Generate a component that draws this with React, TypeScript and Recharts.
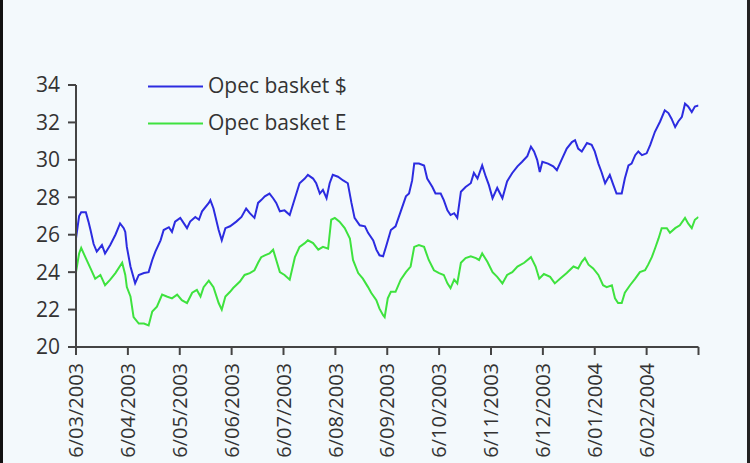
import React from "react";
import { LineChart, Line, XAxis, YAxis } from "recharts";

const FONT = "'Open Sans', 'DejaVu Sans', sans-serif";

// x positions are months since the first tick (0 = first date label)
const monthTicks = [0, 1, 2, 3, 4, 5, 6, 7, 8, 9, 10, 11, 12];
const monthLabels = [
  "6/03/2003", "6/04/2003", "6/05/2003", "6/06/2003", "6/07/2003", "6/08/2003",
  "6/09/2003", "6/10/2003", "6/11/2003", "6/12/2003", "6/01/2004", "6/02/2004",
];
const yTicks = [20, 22, 24, 26, 28, 30, 32, 34];
const seriesNames = ["Opec basket $", "Opec basket E"];
const seriesColors = ["#2c2ce0", "#3ee23e"];

const usdMonths = [
  0.0, 0.06, 0.1, 0.19, 0.24, 0.28, 0.34, 0.4, 0.5, 0.56, 0.66, 0.76, 0.85, 0.92, 0.95, 0.98,
  1.05, 1.14, 1.21, 1.31, 1.4, 1.47, 1.53, 1.63, 1.69, 1.79, 1.85, 1.91, 2.01, 2.14, 2.2, 2.3,
  2.37, 2.43, 2.56, 2.59, 2.65, 2.75, 2.81, 2.88, 2.97, 3.09, 3.19, 3.28, 3.35, 3.44, 3.51, 3.57,
  3.64, 3.73, 3.8, 3.86, 3.93, 4.02, 4.12, 4.22, 4.31, 4.41, 4.47, 4.57, 4.63, 4.7, 4.76, 4.83,
  4.89, 4.95, 5.05, 5.15, 5.24, 5.31, 5.37, 5.47, 5.57, 5.63, 5.73, 5.79, 5.85, 5.92, 5.98, 6.07,
  6.16, 6.26, 6.36, 6.42, 6.48, 6.52, 6.61, 6.71, 6.77, 6.87, 6.93, 7.03, 7.09, 7.16, 7.22, 7.29,
  7.35, 7.42, 7.51, 7.61, 7.67, 7.74, 7.83, 7.9, 7.96, 8.03, 8.12, 8.22, 8.31, 8.41, 8.51, 8.6,
  8.7, 8.77, 8.83, 8.89, 8.94, 8.99, 9.1, 9.2, 9.27, 9.36, 9.46, 9.56, 9.62, 9.68, 9.75, 9.85,
  9.94, 10.0, 10.07, 10.13, 10.2, 10.29, 10.36, 10.42, 10.52, 10.58, 10.65, 10.71, 10.78, 10.84,
  10.91, 11.0, 11.07, 11.16, 11.26, 11.35, 11.42, 11.48, 11.55, 11.61, 11.68, 11.74, 11.8, 11.87,
  11.93, 12.0,
];
const usdValues = [
  25.8, 27.0, 27.2, 27.2, 26.7, 26.25, 25.5, 25.1, 25.45, 25.0, 25.45, 26.0, 26.6, 26.35, 26.15, 25.35,
  24.3, 23.4, 23.85, 23.95, 24.0, 24.65, 25.1, 25.7, 26.25, 26.4, 26.15, 26.7, 26.9, 26.35, 26.7, 26.95,
  26.8, 27.25, 27.7, 27.85, 27.4, 26.25, 25.7, 26.35, 26.45, 26.7, 26.95, 27.4, 27.15, 26.9, 27.7, 27.85,
  28.05, 28.2, 27.95, 27.7, 27.25, 27.3, 27.05, 27.95, 28.75, 29.0, 29.2, 29.0, 28.75, 28.2, 28.4, 27.95,
  28.75, 29.2, 29.1, 28.9, 28.75, 27.7, 26.9, 26.5, 26.45, 26.1, 25.7, 25.2, 24.9, 24.85, 25.4, 26.25,
  26.45, 27.25, 28.05, 28.2, 28.9, 29.8, 29.8, 29.7, 29.0, 28.55, 28.2, 28.2, 27.85, 27.3, 27.05, 27.15,
  26.9, 28.3, 28.55, 28.75, 29.3, 29.0, 29.7, 29.1, 28.65, 27.95, 28.5, 27.95, 28.85, 29.3, 29.65, 29.9,
  30.2, 30.7, 30.45, 30.0, 29.35, 29.9, 29.8, 29.65, 29.45, 30.0, 30.6, 30.95, 31.05, 30.6, 30.45, 30.9,
  30.8, 30.45, 29.8, 29.35, 28.75, 29.2, 28.65, 28.2, 28.2, 29.0, 29.7, 29.8, 30.25, 30.45,
  30.25, 30.35, 30.8, 31.5, 32.05, 32.65, 32.5, 32.2, 31.75, 32.05, 32.3, 33.0, 32.85, 32.55,
  32.85, 32.9,
];

const eurMonths = [
  0.0, 0.06, 0.1, 0.18, 0.28, 0.37, 0.47, 0.56, 0.66, 0.76, 0.89, 0.95, 0.98, 1.05, 1.11, 1.21,
  1.31, 1.4, 1.47, 1.56, 1.66, 1.75, 1.85, 1.95, 2.04, 2.14, 2.24, 2.33, 2.4, 2.46, 2.56, 2.65,
  2.75, 2.81, 2.88, 2.97, 3.03, 3.16, 3.25, 3.35, 3.44, 3.51, 3.57, 3.64, 3.73, 3.8, 3.86, 3.93,
  4.02, 4.12, 4.22, 4.31, 4.41, 4.47, 4.57, 4.67, 4.76, 4.86, 4.92, 4.99, 5.08, 5.18, 5.28, 5.34,
  5.44, 5.53, 5.63, 5.69, 5.79, 5.85, 5.92, 5.95, 6.01, 6.07, 6.16, 6.26, 6.36, 6.45, 6.52, 6.61,
  6.71, 6.8, 6.9, 7.0, 7.09, 7.16, 7.22, 7.29, 7.35, 7.42, 7.51, 7.61, 7.71, 7.77, 7.83, 7.93,
  8.03, 8.12, 8.22, 8.31, 8.41, 8.51, 8.64, 8.77, 8.86, 8.93, 9.02, 9.14, 9.23, 9.33, 9.46, 9.59,
  9.68, 9.75, 9.81, 9.88, 9.97, 10.07, 10.16, 10.23, 10.33, 10.39, 10.45, 10.52, 10.58, 10.68,
  10.78, 10.87, 10.97, 11.03, 11.1, 11.16, 11.23, 11.29, 11.39, 11.45, 11.55, 11.64, 11.74, 11.8,
  11.87, 11.93, 12.0,
];
const eurValues = [
  24.0, 25.0, 25.3, 24.8, 24.2, 23.65, 23.85, 23.3, 23.6, 23.95, 24.5, 23.85, 23.2, 22.7, 21.6, 21.25,
  21.25, 21.15, 21.9, 22.15, 22.8, 22.7, 22.6, 22.8, 22.5, 22.35, 22.9, 23.05, 22.7, 23.2, 23.55, 23.2,
  22.35, 22.0, 22.7, 22.95, 23.15, 23.5, 23.85, 23.95, 24.1, 24.5, 24.8, 24.9, 25.0, 25.2, 24.65, 24.0,
  23.85, 23.6, 24.8, 25.35, 25.55, 25.7, 25.55, 25.2, 25.35, 25.25, 26.8, 26.9, 26.7, 26.35, 25.8, 24.65,
  23.95, 23.65, 23.2, 22.9, 22.5, 22.05, 21.7, 21.6, 22.6, 22.95, 22.95, 23.6, 24.0, 24.3, 25.35, 25.45,
  25.35, 24.65, 24.1, 23.95, 23.85, 23.4, 23.15, 23.6, 23.4, 24.5, 24.75, 24.85, 24.75, 24.65, 25.0, 24.55,
  24.0, 23.75, 23.4, 23.85, 24.0, 24.3, 24.5, 24.8, 24.3, 23.65, 23.9, 23.75, 23.4, 23.65, 23.95, 24.3,
  24.2, 24.55, 24.75, 24.4, 24.2, 23.85, 23.3, 23.2, 23.3, 22.6, 22.35, 22.35, 22.9, 23.3,
  23.65, 24.0, 24.1, 24.4, 24.8, 25.25, 25.8, 26.35, 26.35, 26.1, 26.35, 26.5, 26.9, 26.6,
  26.35, 26.8, 26.95,
];

const usdData = usdMonths.map((m, i) => ({ m, v: usdValues[i] }));
const eurData = eurMonths.map((m, i) => ({ m, v: eurValues[i] }));

const AXIS = "#444";
const TEXT = "#333";

const XTick = (props: any) => {
  const { x, y, payload } = props;
  const label = monthLabels[payload.value] ?? "";
  return (
    <g transform={`translate(${x},${y + 6})`}>
      <text
        transform="rotate(-90)"
        textAnchor="end"
        dy="0.36em"
        fontFamily={FONT}
        fontSize={20}
        fill={TEXT}
      >
        {label}
      </text>
    </g>
  );
};

const LegendOverlay = () => (
  <svg
    width={750}
    height={463}
    style={{ position: "absolute", left: 0, top: 0, pointerEvents: "none" }}
  >
    {seriesNames.map((name, i) => (
      <g key={name} transform={`translate(148,${86.5 + i * 37})`}>
        <line x1={0} x2={55} y1={0} y2={0} stroke={seriesColors[i]} strokeWidth={2} />
        <text x={60} y={-1} dy="0.36em" fontFamily={FONT} fontSize={21} fill={TEXT}>
          {name}
        </text>
      </g>
    ))}
  </svg>
);

export default function App() {
  return (
    <>
      <style>{"body{margin:0;}"}</style>
      <div
        style={{
          position: "relative",
          width: 750,
          height: 463,
          background: "#f3f9fc",
          overflow: "hidden",
        }}
      >
        <LineChart
          width={750}
          height={463}
          margin={{ top: 85, right: 51.5, bottom: 0, left: 0 }}
        >
          <XAxis
            type="number"
            dataKey="m"
            domain={[0, 12]}
            ticks={monthTicks}
            interval={0}
            height={116}
            tickSize={8}
            axisLine={{ stroke: AXIS, strokeWidth: 2 }}
            tickLine={{ stroke: AXIS, strokeWidth: 2 }}
            tick={<XTick />}
            allowDataOverflow
          />
          <YAxis
            type="number"
            domain={[20, 34]}
            ticks={yTicks}
            interval={0}
            width={76}
            tickSize={8}
            tickMargin={8}
            axisLine={{ stroke: AXIS, strokeWidth: 2 }}
            tickLine={{ stroke: AXIS, strokeWidth: 2 }}
            tick={{ fill: TEXT, fontSize: 21, fontFamily: FONT }}
            allowDataOverflow
          />
          <Line
            data={usdData}
            dataKey="v"
            type="linear"
            stroke={seriesColors[0]}
            strokeWidth={2}
            dot={false}
            isAnimationActive={false}
          />
          <Line
            data={eurData}
            dataKey="v"
            type="linear"
            stroke={seriesColors[1]}
            strokeWidth={2}
            dot={false}
            isAnimationActive={false}
          />
        </LineChart>
        <LegendOverlay />
        <div style={{ position: "absolute", left: 0, top: 0, width: 3, height: 463, background: "#111" }} />
        <div style={{ position: "absolute", right: 0, top: 0, width: 3, height: 463, background: "#222" }} />
      </div>
    </>
  );
}
